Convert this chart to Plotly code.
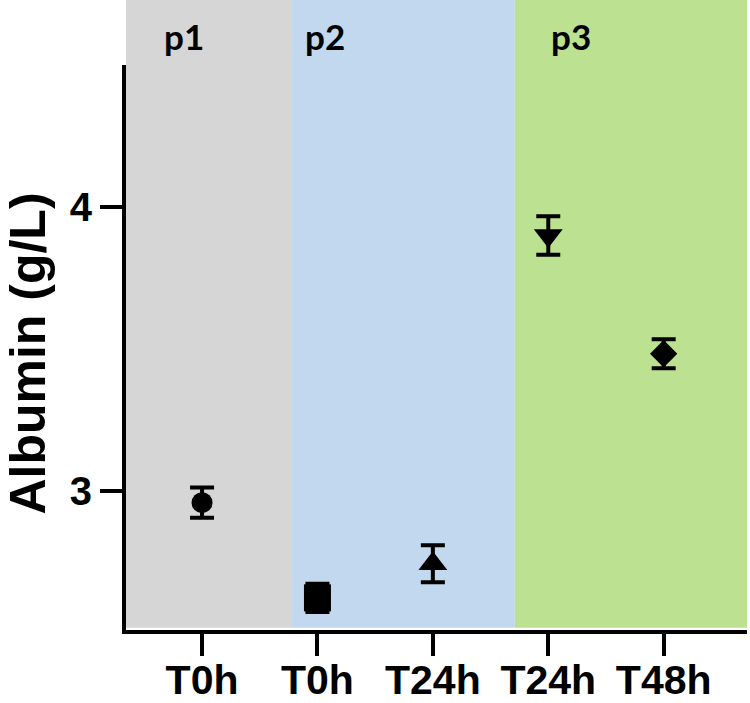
import plotly.graph_objects as go

# ---- data ----
tick_labels = ["T0h", "T0h", "T24h", "T24h", "T48h"]
x_pos = [0, 1, 2, 3, 4]
means = [2.96, 2.625, 2.745, 3.90, 3.484]
errs = [0.053, 0.05, 0.065, 0.068, 0.051]
symbols = ["circle", "square", "triangle-up", "triangle-down", "diamond"]
sizes = [21, 27, 25, 25, 21]

panel_names = ["p1", "p2", "p3"]
panel_bounds = [(-0.659, 0.78), (0.78, 2.71), (2.71, 4.722)]
panel_colors = ["#d6d6d6", "#c1d8ee", "#bce291"]
panel_label_x = [-0.155, 1.065, 3.2]

x_range = [-0.659, 4.722]
y_range = [2.512, 4.5]

fig = go.Figure()

for i in range(len(x_pos)):
    fig.add_trace(go.Scatter(
        x=[x_pos[i]], y=[means[i]],
        mode="markers",
        marker=dict(symbol=symbols[i], size=sizes[i], color="black",
                    line=dict(width=0)),
        error_y=dict(type="data", array=[errs[i]], visible=True,
                     color="black", thickness=4, width=12),
        showlegend=False,
        cliponaxis=False,
    ))

shapes = []
for (x0, x1), c in zip(panel_bounds, panel_colors):
    shapes.append(dict(type="rect", xref="x", yref="paper",
                       x0=x0, x1=x1, y0=0.004, y1=1.2,
                       fillcolor=c, line=dict(width=0), layer="below"))

annotations = []
for name, lx in zip(panel_names, panel_label_x):
    annotations.append(dict(text="<b>%s</b>" % name, x=lx, xref="x",
                            y=1.052, yref="paper", showarrow=False,
                            font=dict(family="Lato", size=35, color="black"),
                            xanchor="center", yanchor="middle"))
annotations.append(dict(text="<b>Albumin (g/L)</b>", textangle=-90,
                        x=-0.158, xref="paper", y=0.489, yref="paper",
                        showarrow=False, xanchor="center", yanchor="middle",
                        font=dict(family="Liberation Sans, Arial", size=50,
                                  color="black")))

fig.update_layout(
    width=750, height=703,
    margin=dict(l=126, r=3, t=65, b=73, autoexpand=False),
    paper_bgcolor="white", plot_bgcolor="rgba(0,0,0,0)",
    shapes=shapes, annotations=annotations,
    xaxis=dict(range=x_range, tickmode="array", tickvals=x_pos,
               ticktext=["<b>%s</b>" % t for t in tick_labels],
               automargin=False, ticklabelstandoff=-11,
               showgrid=False, zeroline=False, showline=True,
               linecolor="black", linewidth=4,
               ticks="outside", ticklen=22, tickwidth=4, tickcolor="black",
               tickfont=dict(family="Liberation Sans, Arial", size=41,
                             color="black")),
    yaxis=dict(range=y_range, tickmode="array", tickvals=[3, 4],
               ticktext=["<b>3</b>", "<b>4</b>"],
               automargin=False,
               showgrid=False, zeroline=False, showline=True,
               linecolor="black", linewidth=4,
               ticks="outside", ticklen=22, tickwidth=4, tickcolor="black",
               tickfont=dict(family="Liberation Sans, Arial", size=40,
                             color="black")),
)

fig.write_html("out.html", config={"displayModeBar": False},
               post_script="document.body.style.margin='0';document.body.style.padding='0';")
